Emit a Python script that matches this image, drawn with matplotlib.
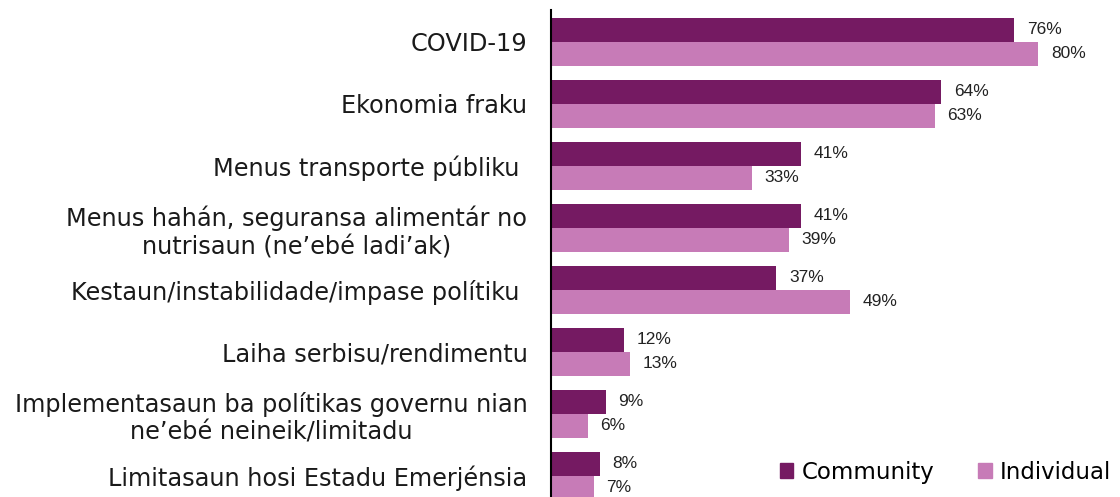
import numpy as np
import matplotlib.pyplot as plt
from matplotlib.patches import Patch

# Datos
categorias = [
    'COVID-19',
    'Ekonomia fraku',
    'Menus transporte públiku ',
    'Menus hahán, seguransa alimentár no\nnutrisaun (ne’ebé ladi’ak)',
    'Kestaun/instabilidade/impase polítiku ',
    'Laiha serbisu/rendimentu',
    'Implementasaun ba polítikas governu nian\nne’ebé neineik/limitadu',
    'Limitasaun hosi Estadu Emerjénsia',
]
community = [76, 64, 41, 41, 37, 12, 9, 8]
individual = [80, 63, 33, 39, 49, 13, 6, 7]
series = ['Community', 'Individual']

color_com = '#751A62'
color_ind = '#C77BB7'

fig = plt.figure(figsize=(11.2, 4.97), dpi=100)
ax = fig.add_axes([551 / 1120, 0, 1 - 551 / 1120, 487 / 497])

y = np.arange(len(categorias))
h = 0.387
ax.barh(y - h / 2, community, height=h, color=color_com)
ax.barh(y + h / 2, individual, height=h, color=color_ind)

# etiquetas de valor
for i in range(len(categorias)):
    ax.text(community[i] + 2.1, y[i] - h / 2, f'{community[i]}%', va='center', ha='left',
            fontsize=12.5, family='Liberation Sans', color='#222222')
    ax.text(individual[i] + 2.1, y[i] + h / 2, f'{individual[i]}%', va='center', ha='left',
            fontsize=12.5, family='Liberation Sans', color='#222222')

ax.set_xlim(0, 93.4)
ax.set_ylim(7 + 0.339, -0.516)
ax.set_xticks([])
ax.set_yticks(y)
ax.set_yticklabels(categorias, fontsize=17.3, family='DejaVu Sans', multialignment='center',
                   color='#1a1a1a')
ax.tick_params(axis='y', length=0, pad=17)
for s in ['top', 'right', 'bottom']:
    ax.spines[s].set_visible(False)
ax.spines['left'].set_linewidth(1.5)
ax.spines['left'].set_color('black')

handles = [Patch(color=color_com), Patch(color=color_ind)]
ax.legend(handles, series, loc='center right', bbox_to_anchor=(1.0, 0.051), ncol=2,
          frameon=False, prop={'family': 'DejaVu Sans', 'size': 16.5},
          handlelength=0.6, handleheight=0.6, handletextpad=0.35, columnspacing=1.9,
          borderaxespad=0.0)

fig.savefig('out.png', dpi=100)
